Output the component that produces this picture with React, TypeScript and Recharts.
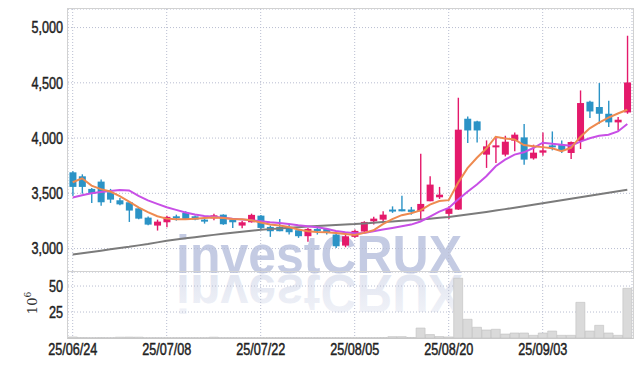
import React from "react";
import { ComposedChart, Bar, Line, XAxis, YAxis, CartesianGrid } from "recharts";

const dates = [
  "25/06/24", "25/06/25", "25/06/26", "25/06/27", "25/06/30", "25/07/01", "25/07/02", "25/07/03", "25/07/04", "25/07/07",
  "25/07/08", "25/07/09", "25/07/10", "25/07/11", "25/07/14", "25/07/15", "25/07/16", "25/07/17", "25/07/18", "25/07/21",
  "25/07/22", "25/07/23", "25/07/24", "25/07/25", "25/07/28", "25/07/29", "25/07/30", "25/07/31", "25/08/01", "25/08/04",
  "25/08/05", "25/08/06", "25/08/07", "25/08/08", "25/08/11", "25/08/12", "25/08/13", "25/08/14", "25/08/18", "25/08/19",
  "25/08/20", "25/08/21", "25/08/22", "25/08/25", "25/08/26", "25/08/27", "25/08/28", "25/08/29", "25/09/01", "25/09/02",
  "25/09/03", "25/09/04", "25/09/05", "25/09/08", "25/09/09", "25/09/10", "25/09/11", "25/09/12", "25/09/15", "25/09/16",
];

const opens = [
  3690, 3654, 3540, 3606, 3510, 3437, 3419, 3364, 3280, 3208,
  3238, 3292, 3323, 3292, 3262, 3274, 3307, 3262, 3208, 3238,
  3298, 3196, 3196, 3196, 3166, 3112, 3178, 3178, 3127, 3027,
  3106, 3154, 3247, 3262, 3353, 3356, 3353, 3337, 3428, 3464,
  3314, 3353, 4175, 4151, 3850, 3919, 3850, 3976, 4006, 3816,
  3868, 3934, 3937, 3865, 3974, 4329, 4281, 4220, 4142, 4232,
];
const highs = [
  3700, 3672, 3549, 3624, 3540, 3458, 3425, 3370, 3290, 3262,
  3298, 3307, 3337, 3300, 3283, 3316, 3310, 3268, 3250, 3316,
  3304, 3208, 3268, 3217, 3178, 3187, 3196, 3187, 3148, 3148,
  3172, 3247, 3287, 3337, 3382, 3479, 3377, 3859, 3654, 3558,
  3382, 4365, 4196, 4157, 3979, 4015, 4021, 4051, 4127, 3940,
  4051, 4060, 3979, 3970, 4431, 4338, 4498, 4338, 4191, 4926,
];
const lows = [
  3479, 3497, 3413, 3388, 3413, 3391, 3241, 3265, 3210, 3163,
  3193, 3253, 3260, 3256, 3226, 3256, 3215, 3187, 3184, 3235,
  3178, 3106, 3157, 3127, 3097, 3061, 3127, 3127, 3006, 3012,
  3097, 3151, 3217, 3247, 3323, 3337, 3307, 3262, 3428, 3449,
  3268, 3350, 3955, 3961, 3730, 3775, 3834, 3880, 3759, 3805,
  3841, 3889, 3865, 3811, 3901, 4182, 4130, 4100, 4069, 4220,
];
const closes = [
  3558, 3558, 3497, 3419, 3443, 3400, 3344, 3271, 3217, 3244,
  3287, 3280, 3268, 3262, 3256, 3301, 3220, 3238, 3238, 3305,
  3187, 3157, 3157, 3148, 3112, 3178, 3157, 3148, 3021, 3111,
  3160, 3241, 3271, 3307, 3341, 3337, 3332, 3404, 3579, 3488,
  3362, 4076, 4069, 4069, 3925, 3934, 3967, 4031, 3805, 3868,
  3889, 3925, 3889, 3964, 4317, 4241, 4220, 4142, 4166, 4503,
];

const ma5 = [
  3600, 3636, 3570, 3538, 3516, 3475, 3424, 3372, 3330, 3293,
  3271, 3265, 3265, 3270, 3276, 3282, 3277, 3268, 3266, 3256,
  3236, 3218, 3208, 3195, 3172, 3157, 3151, 3147, 3140, 3132,
  3124, 3142, 3166, 3222, 3266, 3302, 3320, 3345, 3398, 3430,
  3438, 3595, 3728, 3822, 3905, 4012, 3996, 3988, 3937, 3927,
  3918, 3907, 3882, 3912, 4010, 4088, 4140, 4185, 4222, 4256,
];
const ma20 = [
  3462, 3482, 3500, 3512, 3522, 3530, 3526, 3476, 3436, 3404,
  3374, 3350, 3326, 3308, 3294, 3287, 3278, 3269, 3262, 3256,
  3247, 3238, 3232, 3223, 3211, 3202, 3193, 3180, 3160, 3148,
  3138, 3142, 3157, 3172, 3187, 3202, 3217, 3245, 3290, 3335,
  3368, 3443, 3515, 3580, 3654, 3745, 3805, 3850, 3871, 3910,
  3958, 3949, 3940, 3931, 3968, 3998, 4020, 4030, 4060, 4128,
];
const ma60 = [
  2946, 2958, 2969, 2981, 2993, 3005, 3016, 3029, 3041, 3056,
  3071, 3082, 3093, 3103, 3114, 3124, 3134, 3143, 3153, 3162,
  3170, 3176, 3182, 3188, 3194, 3199, 3204, 3209, 3213, 3218,
  3222, 3228, 3234, 3240, 3246, 3252, 3257, 3262, 3270, 3278,
  3286, 3297, 3309, 3320, 3332, 3344, 3357, 3370, 3384, 3397,
  3410, 3424, 3437, 3450, 3464, 3478, 3492, 3505, 3519, 3533,
];

// volume, in millions of shares
const volumes = [
  1.0, 0.4, 0.3, 0.4, 0.3, 0.8, 0.9, 0.8, 0.3, 0.3,
  0.3, 0.3, 0.3, 0.3, 0.3, 0.8, 0.3, 0.3, 0.3, 0.3,
  0.3, 0.3, 0.3, 0.3, 0.3, 0.3, 0.3, 0.3, 0.3, 0.3,
  0.3, 0.3, 0.3, 0.4, 1.3, 1.3, 0.5, 9.6, 3.3, 1.4,
  1.0, 57.5, 18.0, 10.3, 7.7, 8.4, 3.8, 4.8, 4.8, 2.6,
  4.8, 6.7, 2.6, 2.6, 34.3, 6.7, 12.2, 4.8, 2.6, 47.8,
];

const dateTicks = ["25/06/24", "25/07/08", "25/07/22", "25/08/05", "25/08/20", "25/09/03"];
const priceTicks = [3000, 3500, 4000, 4500, 5000];
const volumeTicks = [25, 50];

const UP = "#e4196b";
const DOWN = "#2b93c6";
const GRID = "#b8bdd0";
const FONT = "'Liberation Sans', Arial, sans-serif";

const data = dates.map((date, i) => ({
  date,
  open: opens[i],
  high: highs[i],
  low: lows[i],
  close: closes[i],
  ma5: ma5[i],
  ma20: ma20[i],
  ma60: ma60[i],
  volume: volumes[i],
}));

const Candle = (props: any) => {
  const { x, y, width, height, payload } = props;
  if (x == null || y == null) return null;
  const { open, close, high, low } = payload;
  const color = close >= open ? UP : DOWN;
  const top = Math.min(y, y + height);
  const h = Math.abs(height);
  const k = h / (high - low || 1);
  const yOpen = top + (high - open) * k;
  const yClose = top + (high - close) * k;
  const cx = x + width / 2;
  const bw = 7;
  return (
    <g>
      <line x1={cx} x2={cx} y1={top} y2={top + h} stroke={color} strokeWidth={1.4} />
      <rect
        x={cx - bw / 2}
        y={Math.min(yOpen, yClose)}
        width={bw}
        height={Math.max(Math.abs(yOpen - yClose), 2)}
        fill={color}
      />
    </g>
  );
};

// narrow-looking tick labels: sans squeezed horizontally, slightly thickened
const NarrowTick = (props: any) => {
  const { x, y, payload, anchor, dy, fmt } = props;
  const label = fmt ? fmt(payload.value) : payload.value;
  return (
    <g transform={`translate(${x},${y})`}>
      <text
        transform="scale(0.79,1)"
        textAnchor={anchor}
        dy={dy}
        fill="#222"
        stroke="#222"
        strokeWidth={0.45}
        fontSize={16}
        fontFamily={FONT}
      >
        {label}
      </text>
    </g>
  );
};

const fmtNum = (v: number) => v.toLocaleString("en-US");

export default function App() {
  return (
    <div
      style={{
        position: "fixed",
        left: 0,
        top: 0,
        width: 642,
        height: 366,
        background: "#fff",
        overflow: "hidden",
      }}
    >
      {/* watermark + reflection */}
      <svg width={642} height={366} style={{ position: "absolute", left: 0, top: 0 }}>
        <defs>
          <linearGradient id="fade" gradientUnits="userSpaceOnUse" x1="0" y1="272" x2="0" y2="232">
            <stop offset="0" stopColor="#c6cde3" stopOpacity={0.5} />
            <stop offset="1" stopColor="#c6cde3" stopOpacity={0.25} />
          </linearGradient>
        </defs>
        <text
          x={176}
          y={273}
          textLength={286}
          lengthAdjust="spacingAndGlyphs"
          fontSize={53}
          fontWeight="bold"
          fontFamily="'Liberation Sans', Arial, sans-serif"
          fill="#c4cbe3"
        >
          investCRUX
        </text>
        <g transform="translate(0,548) scale(1,-1)">
          <text
            x={176}
            y={273}
            textLength={286}
            lengthAdjust="spacingAndGlyphs"
            fontSize={53}
            fontWeight="bold"
            fontFamily="'Liberation Sans', Arial, sans-serif"
            fill="url(#fade)"
          >
            investCRUX
          </text>
        </g>
        <text
          transform="translate(37,303) rotate(-90)"
          fontSize={13}
          fontFamily="'DejaVu Serif', serif"
          fill="#333"
          textAnchor="middle"
        >
          10
          <tspan dy={-6} fontSize={9}>6</tspan>
        </text>
      </svg>

      {/* price panel */}
      <div style={{ position: "absolute", left: 0, top: 0 }}>
        <ComposedChart width={642} height={272} data={data} margin={{ top: 9, right: 10, left: 0, bottom: 0 }}>
          <CartesianGrid stroke={GRID} strokeDasharray="1 2" />
          <XAxis dataKey="date" hide height={0} ticks={dateTicks} interval={0} />
          <YAxis
            domain={[2788, 5168]}
            ticks={priceTicks}
            width={68}
            axisLine={false}
            tickLine={false}
            tickSize={0}
            tickMargin={5}
            tick={<NarrowTick anchor="end" dy="0.36em" fmt={fmtNum} />}
            allowDataOverflow
          />
          <Line dataKey="ma60" stroke="#7b7b7b" strokeWidth={2} dot={false} isAnimationActive={false} />
          <Line dataKey="ma20" stroke="#c84fe6" strokeWidth={2} dot={false} isAnimationActive={false} />
          <Line dataKey="ma5" stroke="#ee8a50" strokeWidth={2} dot={false} isAnimationActive={false} />
          <Bar dataKey={(d: any) => [d.low, d.high]} shape={<Candle />} isAnimationActive={false} />
        </ComposedChart>
      </div>

      {/* volume panel */}
      <div style={{ position: "absolute", left: 0, top: 272 }}>
        <ComposedChart
          width={642}
          height={94}
          data={data}
          margin={{ top: 0, right: 10, left: 0, bottom: 0 }}
          barCategoryGap="3%"
        >
          <CartesianGrid stroke={GRID} strokeDasharray="1 2" />
          <XAxis
            dataKey="date"
            ticks={dateTicks}
            interval={0}
            height={28}
            axisLine={false}
            tickLine={false}
            tickSize={0}
            tickMargin={5}
            tick={<NarrowTick anchor="middle" dy="0.72em" />}
          />
          <YAxis
            domain={[0, 63.5]}
            ticks={volumeTicks}
            width={68}
            axisLine={false}
            tickLine={false}
            tickSize={0}
            tickMargin={5}
            tick={<NarrowTick anchor="end" dy="0.36em" />}
          />
          <Bar dataKey="volume" fill="#dadada" stroke="#c0c0c0" strokeWidth={0.6} isAnimationActive={false} />
        </ComposedChart>
      </div>

      {/* panel frames */}
      <div
        style={{
          position: "absolute",
          left: 67,
          top: 8,
          width: 565,
          height: 329,
          border: "1px solid #d2d2d2",
          borderBottomColor: "#c8c8c8",
          pointerEvents: "none",
        }}
      />
      <div
        style={{
          position: "absolute",
          left: 68,
          top: 271,
          width: 564,
          height: 1,
          background: "#d2d2d2",
          pointerEvents: "none",
        }}
      />
    </div>
  );
}
